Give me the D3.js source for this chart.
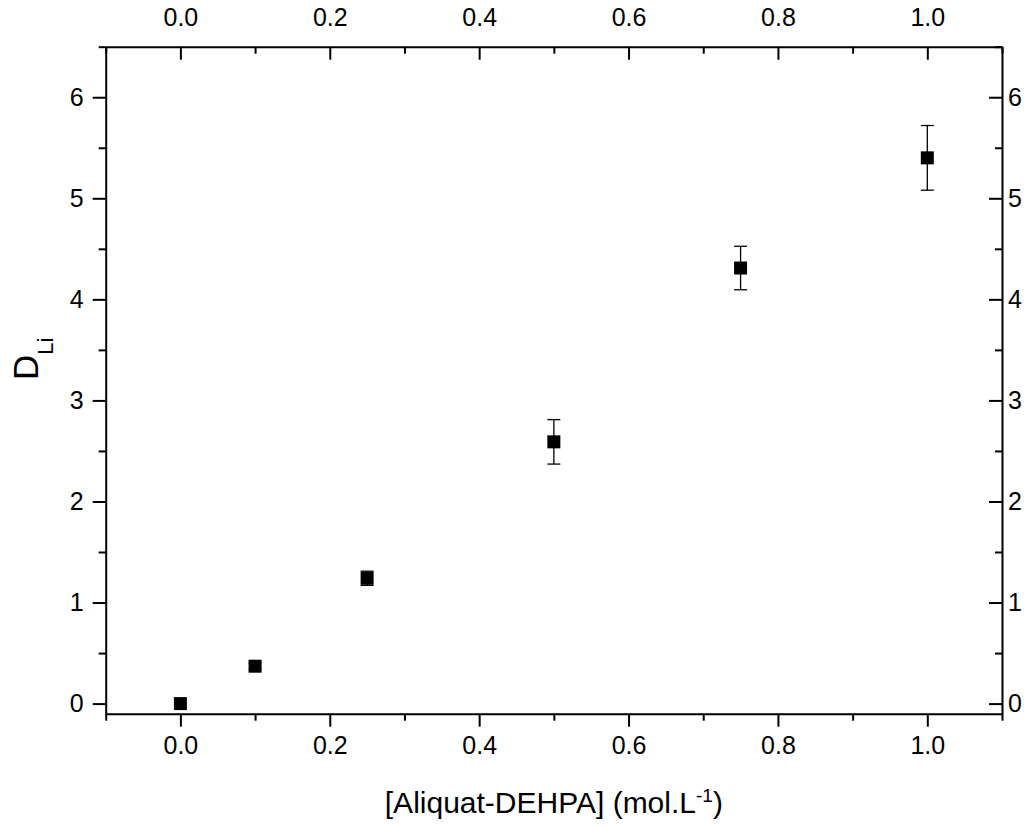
<!DOCTYPE html>
<html>
<head>
<meta charset="utf-8">
<script src="https://cdn.jsdelivr.net/npm/d3@7"></script>
<style>
  html, body { margin: 0; padding: 0; background: #fff; }
  svg { display: block; }
  text { font-family: "Liberation Sans", Arial, Helvetica, sans-serif; fill: #000; }
</style>
</head>
<body>
<svg id="chart" width="1034" height="827"></svg>
<script>
// ---- data ----
const concentrations = [0.0, 0.1, 0.25, 0.5, 0.75, 1.0];
const dLi = [0.0, 0.37, 1.24, 2.59, 4.31, 5.40];
const dLiError = [0.0, 0.03, 0.07, 0.22, 0.215, 0.32];
const xMajorTicks = [0.0, 0.2, 0.4, 0.6, 0.8, 1.0];
const xMinorTicks = [-0.1, 0.1, 0.3, 0.5, 0.7, 0.9, 1.1];
const yMajorTicks = [0, 1, 2, 3, 4, 5, 6];
const yMinorTicks = [0.5, 1.5, 2.5, 3.5, 4.5, 5.5, 6.5];
const xTitle = "[Aliquat-DEHPA] (mol.L";
const xTitleSup = "-1";
const xTitleEnd = ")";
const yTitle = "D";
const yTitleSub = "Li";

// ---- layout ----
const svg = d3.select("#chart");
const pLeft = 105.7, pRight = 1002, pTop = 46.7, pBottom = 713.7;
const x = d3.scaleLinear().domain([-0.1, 1.1]).range([pLeft, pRight]);
const y = d3.scaleLinear().domain([-0.1, 6.5]).range([pBottom, pTop]);
const fmtX = d3.format(".1f");
const fmtY = d3.format("d");
const majorLen = 13, minorLen = 7;

function styleAxis(g) {
  g.select(".domain").attr("stroke", "#000").attr("stroke-width", 2);
  g.selectAll(".tick line").attr("stroke", "#000").attr("stroke-width", 2);
  g.selectAll(".tick text").style("font-size", "25px").style("font-family", "'Liberation Sans', Arial, sans-serif");
}
function styleMinor(g) {
  g.select(".domain").remove();
  g.selectAll(".tick line").attr("stroke", "#000").attr("stroke-width", 2);
}

// bottom: outward ticks
const gB = svg.append("g").attr("transform", `translate(0,${pBottom})`)
  .call(d3.axisBottom(x).tickValues(xMajorTicks).tickFormat(fmtX).tickSize(majorLen).tickPadding(10).tickSizeOuter(0));
styleAxis(gB);
svg.append("g").attr("transform", `translate(0,${pBottom})`)
  .call(d3.axisBottom(x).tickValues(xMinorTicks).tickFormat("").tickSize(minorLen).tickSizeOuter(0))
  .call(styleMinor);

// top: inward ticks, labels outside
const gT = svg.append("g").attr("transform", `translate(0,${pTop})`)
  .call(d3.axisTop(x).tickValues(xMajorTicks).tickFormat(fmtX).tickSize(-majorLen).tickPadding(21).tickSizeOuter(0));
styleAxis(gT);
svg.append("g").attr("transform", `translate(0,${pTop})`)
  .call(d3.axisTop(x).tickValues(xMinorTicks).tickFormat("").tickSize(-minorLen).tickSizeOuter(0))
  .call(styleMinor);

// left: outward ticks
const gL = svg.append("g").attr("transform", `translate(${pLeft},0)`)
  .call(d3.axisLeft(y).tickValues(yMajorTicks).tickFormat(fmtY).tickSize(majorLen).tickPadding(9).tickSizeOuter(0));
styleAxis(gL);
svg.append("g").attr("transform", `translate(${pLeft},0)`)
  .call(d3.axisLeft(y).tickValues(yMinorTicks).tickFormat("").tickSize(minorLen).tickSizeOuter(0))
  .call(styleMinor);

// right: inward ticks, labels outside
const gR = svg.append("g").attr("transform", `translate(${pRight},0)`)
  .call(d3.axisRight(y).tickValues(yMajorTicks).tickFormat(fmtY).tickSize(-majorLen).tickPadding(6).tickSizeOuter(0));
styleAxis(gR);
svg.append("g").attr("transform", `translate(${pRight},0)`)
  .call(d3.axisRight(y).tickValues(yMinorTicks).tickFormat("").tickSize(-minorLen).tickSizeOuter(0))
  .call(styleMinor);

// ---- error bars ----
const pts = concentrations.map((c, i) => ({ c, v: dLi[i], e: dLiError[i] }));
const capHalf = 6.5;
const eb = svg.append("g").attr("stroke", "#000").attr("stroke-width", 1.3);
pts.filter(d => d.e > 0).forEach(d => {
  const cx = x(d.c);
  eb.append("line").attr("x1", cx).attr("x2", cx).attr("y1", y(d.v + d.e)).attr("y2", y(d.v - d.e));
  eb.append("line").attr("x1", cx - capHalf).attr("x2", cx + capHalf).attr("y1", y(d.v + d.e)).attr("y2", y(d.v + d.e));
  eb.append("line").attr("x1", cx - capHalf).attr("x2", cx + capHalf).attr("y1", y(d.v - d.e)).attr("y2", y(d.v - d.e));
});

// ---- markers ----
const ms = 13;
svg.append("g").selectAll("rect").data(pts).join("rect")
  .attr("x", d => x(d.c) - ms / 2)
  .attr("y", d => y(d.v) - ms / 2)
  .attr("width", ms).attr("height", ms)
  .attr("fill", "#000");

// ---- titles ----
const xt = svg.append("text")
  .attr("x", (pLeft + pRight) / 2).attr("y", 813)
  .attr("text-anchor", "middle")
  .style("font-size", "30px");
xt.append("tspan").text(xTitle);
xt.append("tspan").attr("dy", -11).style("font-size", "19px").text(xTitleSup);
xt.append("tspan").attr("dy", 11).text(xTitleEnd);

const yt = svg.append("text")
  .attr("transform", `translate(38,380) rotate(-90)`)
  .attr("text-anchor", "start")
  .style("font-size", "35px");
yt.append("tspan").text(yTitle);
yt.append("tspan").attr("dy", 14.5).style("font-size", "22px").text(yTitleSub);
</script>
</body>
</html>
